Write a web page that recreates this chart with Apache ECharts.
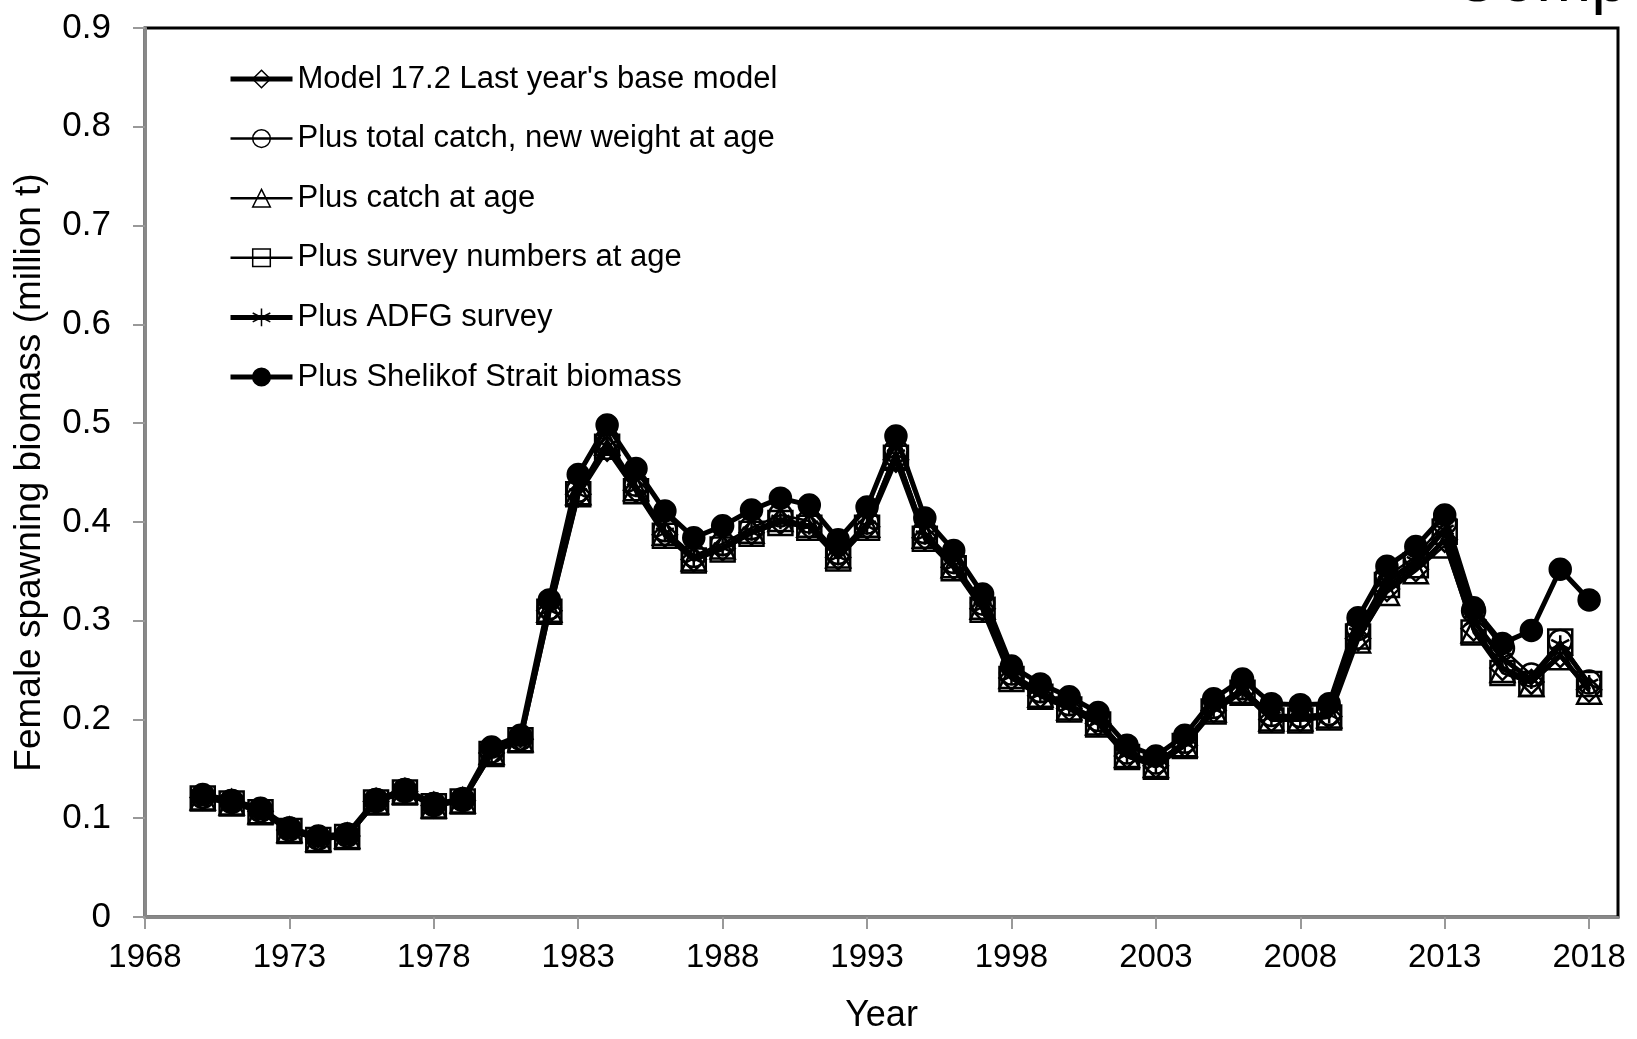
<!DOCTYPE html>
<html>
<head>
<meta charset="utf-8">
<script src="https://cdn.jsdelivr.net/npm/echarts@6/dist/echarts.min.js"></script>
<style>
  html, body { margin: 0; padding: 0; background: #fff; }
  #chart { width: 1637px; height: 1039px; }
</style>
</head>
<body>
<div id="chart"></div>
<script>
// years on the x axis
const years = [];
for (let y = 1970; y <= 2018; y++) years.push(y);
const yearTicks = [1968, 1973, 1978, 1983, 1988, 1993, 1998, 2003, 2008, 2013, 2018];

// female spawning biomass (million t)
const model172 = [
  0.121, 0.116, 0.107, 0.088, 0.079, 0.082, 0.117, 0.127, 0.113, 0.118,
  0.166, 0.180, 0.310, 0.428, 0.474, 0.432, 0.387, 0.362, 0.373, 0.389,
  0.400, 0.395, 0.364, 0.395, 0.463, 0.384, 0.354, 0.312, 0.242, 0.224,
  0.211, 0.196, 0.163, 0.153, 0.174, 0.209, 0.228, 0.200, 0.200, 0.203,
  0.282, 0.332, 0.352, 0.382, 0.292, 0.252, 0.238, 0.265, 0.230
];
const totalCatch = [
  0.122, 0.117, 0.108, 0.089, 0.080, 0.083, 0.118, 0.128, 0.114, 0.119,
  0.168, 0.181, 0.313, 0.432, 0.483, 0.438, 0.392, 0.366, 0.378, 0.394,
  0.407, 0.401, 0.369, 0.400, 0.472, 0.390, 0.360, 0.318, 0.247, 0.229,
  0.216, 0.200, 0.167, 0.157, 0.178, 0.213, 0.232, 0.205, 0.204, 0.206,
  0.292, 0.345, 0.365, 0.399, 0.310, 0.272, 0.245, 0.279, 0.238
];
const catchAtAge = [
  0.121, 0.116, 0.107, 0.088, 0.079, 0.082, 0.117, 0.127, 0.113, 0.118,
  0.167, 0.180, 0.311, 0.430, 0.480, 0.434, 0.389, 0.363, 0.375, 0.391,
  0.403, 0.397, 0.366, 0.397, 0.467, 0.386, 0.356, 0.314, 0.244, 0.225,
  0.212, 0.197, 0.164, 0.154, 0.175, 0.210, 0.229, 0.201, 0.201, 0.204,
  0.280, 0.328, 0.350, 0.376, 0.290, 0.250, 0.236, 0.263, 0.228
];
const surveyNumbers = [
  0.120, 0.115, 0.106, 0.087, 0.078, 0.081, 0.116, 0.126, 0.112, 0.117,
  0.165, 0.179, 0.309, 0.428, 0.476, 0.431, 0.386, 0.361, 0.372, 0.388,
  0.399, 0.394, 0.363, 0.394, 0.465, 0.383, 0.353, 0.311, 0.241, 0.223,
  0.210, 0.195, 0.162, 0.152, 0.173, 0.208, 0.227, 0.199, 0.199, 0.202,
  0.284, 0.336, 0.356, 0.390, 0.288, 0.247, 0.236, 0.279, 0.236
];
const adfgSurvey = [
  0.121, 0.116, 0.107, 0.088, 0.079, 0.082, 0.117, 0.127, 0.113, 0.118,
  0.166, 0.180, 0.311, 0.429, 0.477, 0.434, 0.389, 0.363, 0.374, 0.390,
  0.402, 0.396, 0.365, 0.396, 0.468, 0.386, 0.356, 0.314, 0.244, 0.226,
  0.213, 0.198, 0.165, 0.155, 0.176, 0.211, 0.230, 0.203, 0.202, 0.205,
  0.288, 0.340, 0.360, 0.392, 0.300, 0.262, 0.240, 0.276, 0.236
];
const shelikof = [
  0.124, 0.118, 0.110, 0.090, 0.082, 0.084, 0.119, 0.129, 0.115, 0.119,
  0.172, 0.184, 0.321, 0.448, 0.498, 0.454, 0.411, 0.384, 0.396, 0.412,
  0.424, 0.417, 0.382, 0.415, 0.487, 0.404, 0.371, 0.327, 0.254, 0.236,
  0.223, 0.207, 0.174, 0.163, 0.184, 0.221, 0.241, 0.216, 0.215, 0.216,
  0.303, 0.355, 0.375, 0.407, 0.313, 0.277, 0.290, 0.352, 0.321
];

const seriesNames = [
  "Model 17.2 Last year's base model",
  "Plus total catch, new weight at age",
  "Plus catch at age",
  "Plus survey numbers at age",
  "Plus ADFG survey",
  "Plus Shelikof Strait biomass"
];
const lineWidths = [5, 2.5, 2.5, 2.5, 5, 5];

const asterisk = "path://M5,0L5,10M0.67,2.5L9.33,7.5M0.67,7.5L9.33,2.5";
const FONT = "Liberation Sans";

const pairs = arr => arr.map((v, i) => [years[i], v]);

function makeSeries(idx, data, symbol, size, filled) {
  return {
    name: seriesNames[idx],
    type: "line",
    data: pairs(data),
    symbol: symbol,
    symbolSize: size,
    showAllSymbol: true,
    lineStyle: { color: "#000", width: lineWidths[idx] },
    itemStyle: {
      color: filled ? "#000" : "rgba(255,255,255,0)",
      borderColor: "#000",
      borderWidth: 2.5
    },
    emphasis: { disabled: true },
    animation: false
  };
}

const chart = echarts.init(document.getElementById("chart"));
chart.setOption({
  backgroundColor: "#fff",
  textStyle: { fontFamily: FONT, color: "#000" },
  grid: {
    left: 145,
    right: 19,
    top: 28,
    bottom: 115,
    show: true,
    borderColor: "#000",
    borderWidth: 3
  },
  legend: {
    orient: "vertical",
    left: 228,
    top: 63,
    padding: 0,
    itemWidth: 62,
    itemHeight: 22,
    itemGap: 27.6,
    textStyle: { fontFamily: FONT, fontSize: 31, color: "#000", lineHeight: 32 },
    data: seriesNames.map((n, i) => ({
      name: n,
      lineStyle: { width: lineWidths[i] },
      itemStyle: { borderWidth: 1.5 }
    }))
  },
  xAxis: {
    type: "value",
    min: 1968,
    max: 2019,
    name: "Year",
    nameLocation: "middle",
    nameGap: 81,
    nameTextStyle: { fontFamily: FONT, fontSize: 36, color: "#000" },
    axisLine: { lineStyle: { color: "#888", width: 3 } },
    axisTick: { show: true, length: 12, customValues: yearTicks, lineStyle: { color: "#999", width: 2 } },
    axisLabel: {
      customValues: yearTicks,
      fontSize: 33,
      color: "#000",
      margin: 24,
      fontFamily: FONT,
      formatter: v => String(v)
    },
    splitLine: { show: false }
  },
  yAxis: {
    type: "value",
    min: 0,
    max: 0.9,
    interval: 0.1,
    name: "Female spawning biomass (million t)",
    nameLocation: "middle",
    nameRotate: 90,
    nameGap: 97,
    nameTextStyle: { fontFamily: FONT, fontSize: 37, color: "#000" },
    axisLine: { show: true, lineStyle: { color: "#888", width: 3 } },
    axisTick: { show: true, length: 12, lineStyle: { color: "#999", width: 2 } },
    axisLabel: {
      fontSize: 35,
      color: "#000",
      margin: 34,
      fontFamily: FONT,
      formatter: v => (v === 0 ? "0" : v.toFixed(1))
    },
    splitLine: { show: false }
  },
  graphic: [
    {
      type: "text",
      left: 1452,
      top: -50,
      style: { text: "Comp", fontFamily: FONT, fontSize: 66, fill: "#000" },
      silent: true
    }
  ],
  series: [
    makeSeries(0, model172, "diamond", 24, false),
    makeSeries(1, totalCatch, "circle", 23, false),
    makeSeries(2, catchAtAge, "triangle", 24, false),
    makeSeries(3, surveyNumbers, "rect", 24, false),
    makeSeries(4, adfgSurvey, asterisk, 18, false),
    makeSeries(5, shelikof, "circle", 21, true)
  ]
});
</script>
</body>
</html>
